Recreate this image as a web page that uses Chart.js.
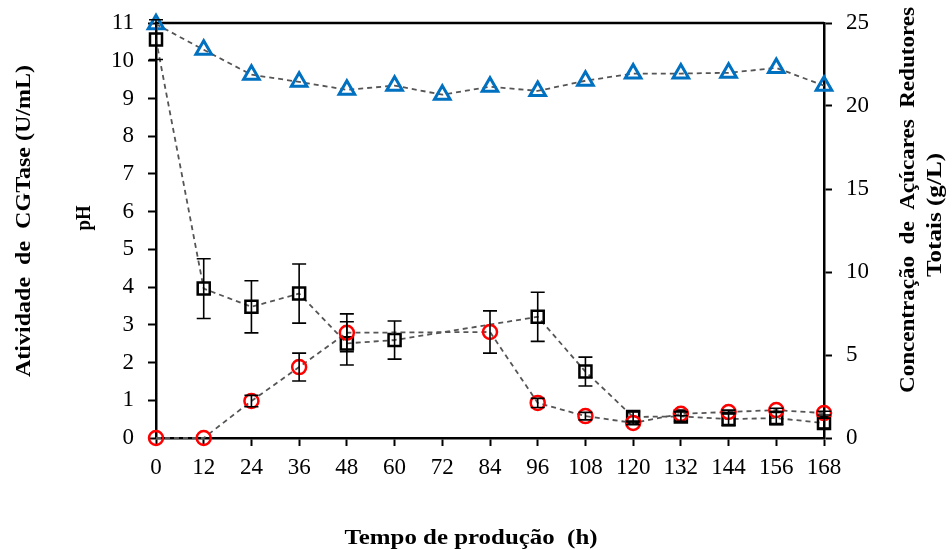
<!DOCTYPE html>
<html>
<head>
<meta charset="utf-8">
<script src="https://cdn.jsdelivr.net/npm/chart.js@4.4.1/dist/chart.umd.min.js"></script>
<style>
  html, body { margin: 0; padding: 0; background: #fff; }
  canvas { display: block; }
</style>
</head>
<body>
<canvas id="grafico" width="952" height="550"></canvas>
<script>
// Tempo de produção (h)
const tempo = [0, 12, 24, 36, 48, 60, 72, 84, 96, 108, 120, 132, 144, 156, 168];

// pH do meio
const ph = [10.97, 10.29, 9.63, 9.44, 9.23, 9.34, 9.10, 9.31, 9.20, 9.47, 9.66, 9.66, 9.68, 9.81, 9.34];

// Atividade de CGTase (U/mL) e desvio
const atividade = [0, 0, 0.98, 1.88, 2.79, null, null, 2.81, 0.93, 0.58, 0.40, 0.64, 0.69, 0.74, 0.66];
const atividadeErro = [0, 0, 0.15, 0.37, 0.5, null, null, 0.56, 0.12, 0.1, 0.05, 0.05, 0.05, 0.05, 0.05];

// Açúcares redutores totais (g/L) e desvio
const acucares = [24.0, 9.0, 7.9, 8.7, 5.7, 5.9, null, null, 7.3, 4.0, 1.27, 1.3, 1.14, 1.2, 0.9];
const acucaresErro = [1.2, 1.8, 1.57, 1.78, 1.3, 1.15, null, null, 1.48, 0.87, 0.3, 0.3, 0.4, 0.4, 0.3];

const ticksEsquerda = { min: 0, max: 11, passo: 1 };
const ticksDireita = { min: 0, max: 25, passo: 5 };

const serif = '"Liberation Serif", "Times New Roman", serif';

function pontos(ys) {
    return tempo.map((t, i) => ({ x: t, y: ys[i] }));
}

// barras de erro verticais com traço nas pontas
const barrasErro = {
    id: 'barrasErro',
    afterDatasetsDraw(chart) {
        const ctx = chart.ctx;
        chart.data.datasets.forEach((ds, i) => {
            if (!ds.erros) return;
            const meta = chart.getDatasetMeta(i);
            const escala = chart.scales[ds.yAxisID];
            ctx.save();
            ctx.strokeStyle = '#000';
            ctx.lineWidth = 1.6;
            meta.data.forEach((p, j) => {
                const v = ds.data[j].y;
                const e = ds.erros[j];
                if (v === null || !e) return;
                const y1 = escala.getPixelForValue(v + e);
                const y2 = escala.getPixelForValue(Math.max(v - e, 0));
                const x = p.x;
                ctx.beginPath();
                ctx.moveTo(x, y1); ctx.lineTo(x, y2);
                ctx.moveTo(x - 7, y1); ctx.lineTo(x + 7, y1);
                ctx.moveTo(x - 7, y2); ctx.lineTo(x + 7, y2);
                ctx.stroke();
            });
            ctx.restore();
        });
    }
};

// moldura superior e títulos dos eixos
function textoAjustado(ctx, txt, x, y, comprimento, rot) {
    ctx.save();
    ctx.translate(x, y);
    ctx.rotate(rot);
    const w = ctx.measureText(txt).width;
    ctx.scale(comprimento / w, 1);
    ctx.fillText(txt, 0, 0);
    ctx.restore();
}

const molduraTitulos = {
    id: 'molduraTitulos',
    beforeDatasetsDraw(chart) {
        const { ctx, chartArea } = chart;
        ctx.save();
        ctx.strokeStyle = '#000';
        ctx.lineWidth = 2.5;
        ctx.beginPath();
        ctx.moveTo(chartArea.left, chartArea.top);
        ctx.lineTo(chartArea.right, chartArea.top);
        ctx.stroke();
        ctx.restore();
    },
    afterDraw(chart) {
        const ctx = chart.ctx;
        ctx.save();
        ctx.fillStyle = '#000';
        ctx.textAlign = 'center';
        ctx.textBaseline = 'middle';
        ctx.font = 'bold 22px ' + serif;
        textoAjustado(ctx, 'Atividade  de  CGTase (U/mL)', 24, 221, 312, -Math.PI / 2);
        textoAjustado(ctx, 'pH', 84, 218, 25, -Math.PI / 2);
        textoAjustado(ctx, 'Concentração  de  Açúcares  Redutores', 908, 200, 386, -Math.PI / 2);
        textoAjustado(ctx, 'Totais (g/L)', 935, 215, 124, -Math.PI / 2);
        textoAjustado(ctx, 'Tempo de produção  (h)', 471, 538, 253, 0);
        ctx.restore();
    }
};

const eixoComum = {
    border: { display: true, color: '#000', width: 2.5 },
    grid: { drawOnChartArea: false, drawTicks: true, tickLength: 8, tickColor: '#000', tickWidth: 2 },
};

// largura/altura fixas dos eixos, sem folga extra para os rótulos
function fixarEixo(tam) {
    return s => {
        if (s.isHorizontal()) s.height = tam; else s.width = tam;
        s.paddingTop = 0;
        s.paddingBottom = 0;
        s.paddingLeft = 0;
        s.paddingRight = 0;
    };
}

new Chart(document.getElementById('grafico'), {
    type: 'line',
    data: {
        datasets: [
            {
                label: 'pH',
                data: pontos(ph),
                yAxisID: 'y',
                borderColor: '#555',
                borderWidth: 1.8,
                borderDash: [5, 4],
                pointStyle: 'triangle',
                pointRadius: 9,
                pointBorderColor: '#0070C0',
                pointBackgroundColor: 'rgba(255,255,255,0)',
                pointBorderWidth: 3,
                clip: false,
            },
            {
                label: 'Atividade de CGTase',
                data: pontos(atividade),
                erros: atividadeErro,
                yAxisID: 'y',
                spanGaps: true,
                borderColor: '#555',
                borderWidth: 1.8,
                borderDash: [5, 4],
                pointStyle: 'circle',
                pointRadius: 7,
                pointBorderColor: '#FF0000',
                pointBackgroundColor: 'rgba(255,255,255,0)',
                pointBorderWidth: 2.5,
                clip: false,
            },
            {
                label: 'Açúcares Redutores Totais',
                data: pontos(acucares),
                erros: acucaresErro,
                yAxisID: 'y1',
                spanGaps: true,
                borderColor: '#555',
                borderWidth: 1.8,
                borderDash: [5, 4],
                pointStyle: 'rect',
                pointRadius: 8.5,
                pointBorderColor: '#000',
                pointBackgroundColor: 'rgba(255,255,255,0)',
                pointBorderWidth: 2.5,
                clip: false,
            },
        ],
    },
    options: {
        responsive: false,
        animation: false,
        layout: { padding: { left: 112, right: 84, top: 23, bottom: 72 } },
        plugins: {
            legend: { display: false },
            tooltip: { enabled: false },
        },
        scales: {
            x: {
                ...eixoComum,
                type: 'linear',
                min: 0,
                max: 168,
                ticks: { stepSize: 12, color: '#000', padding: 8, maxRotation: 0, font: { family: serif, size: 23 } },
                afterFit: fixarEixo(40),
            },
            y: {
                ...eixoComum,
                position: 'left',
                min: ticksEsquerda.min,
                max: ticksEsquerda.max,
                ticks: { stepSize: ticksEsquerda.passo, color: '#000', padding: 14, font: { family: serif, size: 23 } },
                afterFit: fixarEixo(44),
            },
            y1: {
                ...eixoComum,
                position: 'right',
                min: ticksDireita.min,
                max: ticksDireita.max,
                ticks: { stepSize: ticksDireita.passo, color: '#000', padding: 14, font: { family: serif, size: 23 } },
                afterFit: fixarEixo(44),
            },
        },
    },
    plugins: [barrasErro, molduraTitulos],
});
</script>
</body>
</html>
